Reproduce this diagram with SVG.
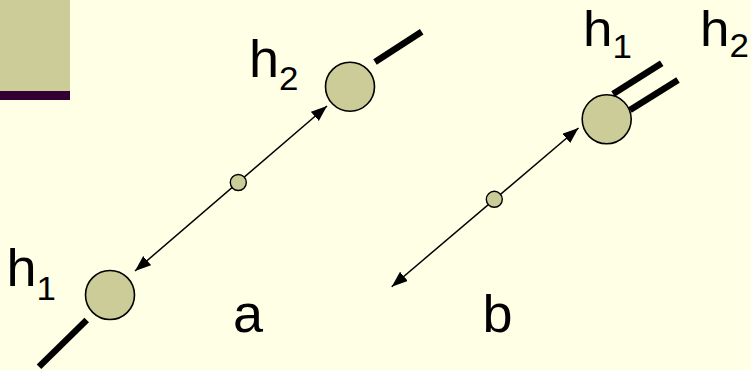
<svg xmlns="http://www.w3.org/2000/svg" width="751" height="370" viewBox="0 0 751 370">
<defs>
<style>
.bg{fill:#FFFFE5}
.node{fill:#CCCC99;stroke:#000;stroke-width:1.6}
.dot{fill:#CCCC99;stroke:#000;stroke-width:1.4}
.bar{stroke:#000;stroke-width:6.5;stroke-linecap:butt}
.conn{stroke:#000;stroke-width:1.5;fill:none;marker-start:url(#ah);marker-end:url(#ah)}
.t{font-family:"Liberation Sans",Arial,sans-serif;font-size:51px;fill:#000}
.tt{font-size:50px}
.s{font-size:33px}
</style>
<marker id="ah" markerUnits="userSpaceOnUse" markerWidth="20" markerHeight="14" refX="16" refY="6" orient="auto-start-reverse">
<path d="M0,0 L16,6 L0,12 Z" fill="#000"/>
</marker>
</defs>
<rect class="bg" x="0" y="0" width="751" height="370"/>
<g id="corner">
<rect x="0" y="0" width="70" height="91" fill="#CCCC99"/>
<rect x="0" y="91" width="70" height="9" fill="#330033"/>
</g>
<g id="connectors">
<line class="conn" x1="327" y1="106" x2="135" y2="271"/>
<line class="conn" x1="578.5" y1="128" x2="391.7" y2="286.7"/>
</g>
<g id="a-h1">
<line class="bar" x1="86.7" y1="320" x2="39" y2="366.7"/>
<circle class="node" cx="110" cy="295" r="24.5"/>
<text class="t" transform="translate(6.5,286) scale(1.06,1)">h<tspan class="s" dy="14">1</tspan></text>
</g>
<g id="a-h2">
<line class="bar" x1="375" y1="62" x2="421.7" y2="31.7"/>
<circle class="node" cx="350" cy="86.7" r="24.5"/>
<text class="t" transform="translate(249,77) scale(1.06,1)">h<tspan class="s" dy="13">2</tspan></text>
</g>
<g id="a-mid">
<circle class="dot" cx="238.3" cy="182.5" r="8"/>
</g>
<g id="b-h">
<line class="bar" x1="613" y1="94" x2="661.7" y2="63.3"/>
<line class="bar" x1="630" y1="110" x2="678" y2="80"/>
<circle class="node" cx="606.7" cy="119.3" r="24.5"/>
<text class="t tt" transform="translate(583,46) scale(1.06,1)">h<tspan class="s" dy="12">1</tspan></text>
<text class="t tt" transform="translate(700,46) scale(1.06,1)">h<tspan class="s" dy="11">2</tspan></text>
</g>
<g id="b-mid">
<circle class="dot" cx="494.3" cy="199.3" r="8"/>
</g>
<g id="labels">
<text class="t" transform="translate(233,332) scale(1.06,1)">a</text>
<text class="t" transform="translate(482.6,332) scale(1.06,1)">b</text>
</g>
</svg>
